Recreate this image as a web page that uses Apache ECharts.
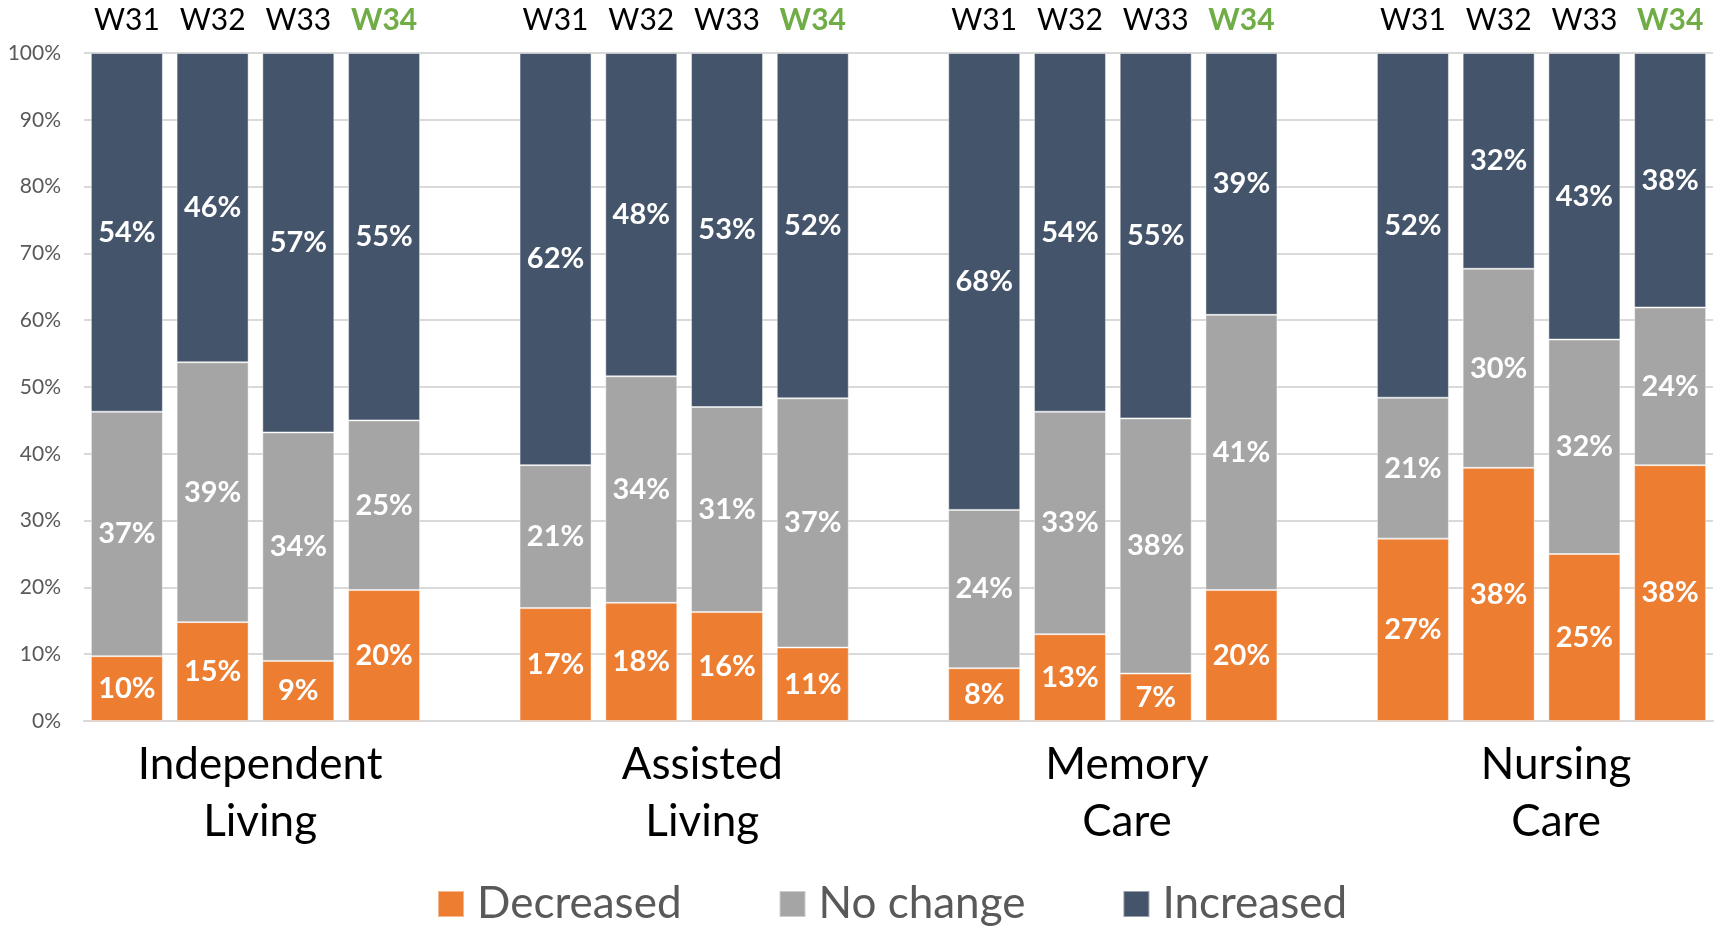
<!DOCTYPE html>
<html>
<head>
<meta charset="utf-8">
<script src="https://cdn.jsdelivr.net/npm/echarts@6/dist/echarts.min.js"></script>
<style>
  html, body { margin: 0; padding: 0; background: #fff; }
  #main { width: 1719px; height: 927px; }
</style>
</head>
<body>
<div id="main"></div>
<script>
var weeks = ["W31", "W32", "W33", "W34"];
var groups = ["Independent\nLiving", "Assisted\nLiving", "Memory\nCare", "Nursing\nCare"];
var seriesNames = ["Decreased", "No change", "Increased"];
var colors = ["#ED7D31", "#A5A5A5", "#44546A"];

// 4 groups x 4 weeks
var decreased = [9.7, 14.8, 9.0, 19.6,  16.9, 17.7, 16.3, 11.0,  7.9, 13.0, 7.1, 19.6,  27.3, 37.9, 25.0, 38.3];
var noChange  = [36.6, 38.9, 34.2, 25.4,  21.4, 33.9, 30.7, 37.3,  23.7, 33.3, 38.2, 41.2,  21.1, 29.8, 32.1, 23.6];
var increased = [53.7, 46.3, 56.8, 55.0,  61.7, 48.4, 53.0, 51.7,  68.4, 53.7, 54.7, 39.2,  51.6, 32.3, 42.9, 38.1];

var yTicks = { min: 0, max: 100, interval: 10 };

// build slots: an empty slot between groups
function slots(arr) {
	var out = [];
	for (var g = 0; g < groups.length; g++) {
		if (g > 0) out.push(null);
		for (var w = 0; w < weeks.length; w++) out.push(arr[g * weeks.length + w]);
	}
	return out;
}
var topCats = [], bottomCats = [];
for (var g = 0; g < groups.length; g++) {
	if (g > 0) { topCats.push(""); bottomCats.push(""); }
	for (var w = 0; w < weeks.length; w++) {
		topCats.push(weeks[w]);
		bottomCats.push(w === 1 ? groups[g] : "");
	}
}

var font = "Lato";
var myChart = echarts.init(document.getElementById("main"));

//group name sits between 2nd and 3rd bar, a bit to the right
var groupShift = [95, 122, 114, 115];
var groupRich = {};
for (var k = 0; k < groups.length; k++) {
	groupRich["g" + k] = { fontSize: 44, lineHeight: 57, color: "#000", fontFamily: font, padding: [0, 0, 0, groupShift[k]] };
}

var dataSets = [decreased, noChange, increased];
var series = [];
for (var i = 0; i < 3; i++) {
	series.push({
		name: seriesNames[i],
		type: "bar",
		stack: "total",
		barWidth: 72,
		xAxisIndex: 0,
		itemStyle: { color: colors[i], borderColor: "rgba(255,255,255,0.45)", borderWidth: 1 },
		label: {
			show: true,
			position: "inside",
			color: "#fff",
			fontFamily: font,
			fontWeight: "bold",
			fontSize: 29,
			formatter: function (p) { return p.value == null ? "" : Math.round(p.value) + "%"; }
		},
		data: slots(dataSets[i])
	});
}
// empty series so the top axis lines up with the bottom one
series.push({ type: "bar", xAxisIndex: 1, data: [], silent: true });

var option = {
	animation: false,
	textStyle: { fontFamily: font },
	grid: { left: 84, right: 6, top: 53, bottom: 206, outerBoundsMode: "none" },
	legend: {
		left: 432,
		top: 877,
		itemWidth: 26,
		itemHeight: 26,
		itemGap: 97,
		icon: "rect",
		textStyle: { fontSize: 44, color: "#595959", fontFamily: font, padding: [0, 0, 0, 8] },
		data: seriesNames
	},
	xAxis: [{
		type: "category",
		position: "bottom",
		data: bottomCats,
		axisLine: { lineStyle: { color: "#D9D9D9", width: 2 } },
		axisTick: { show: false },
		axisLabel: {
			interval: 0,
			margin: 15,
			color: "#000",
			fontSize: 44,
			lineHeight: 57,
			fontFamily: font,
			formatter: function (v) {
				var idx = groups.indexOf(v);
				if (idx < 0) return "";
				return v.split("\n").map(function (s) { return "{g" + idx + "|" + s + "}"; }).join("\n");
			},
			rich: groupRich
		}
	}, {
		type: "category",
		position: "top",
		data: topCats,
		axisLine: { show: false },
		axisTick: { show: false },
		axisLabel: {
			interval: 0,
			margin: 18,
			fontSize: 30,
			fontFamily: font,
			color: "#000",
			formatter: function (v) { return v === "W34" ? "{g|" + v + "}" : v; },
			rich: { g: { color: "#70AD47", fontWeight: "bold", fontSize: 30, fontFamily: font } }
		}
	}],
	yAxis: {
		type: "value",
		min: yTicks.min,
		max: yTicks.max,
		interval: yTicks.interval,
		axisLine: { show: false },
		axisTick: { show: false },
		splitLine: { lineStyle: { color: "#D9D9D9", width: 2 } },
		axisLabel: { formatter: "{value}%", color: "#595959", fontSize: 21, fontFamily: font, margin: 23 }
	},
	series: series
};
myChart.setOption(option);
</script>
</body>
</html>
